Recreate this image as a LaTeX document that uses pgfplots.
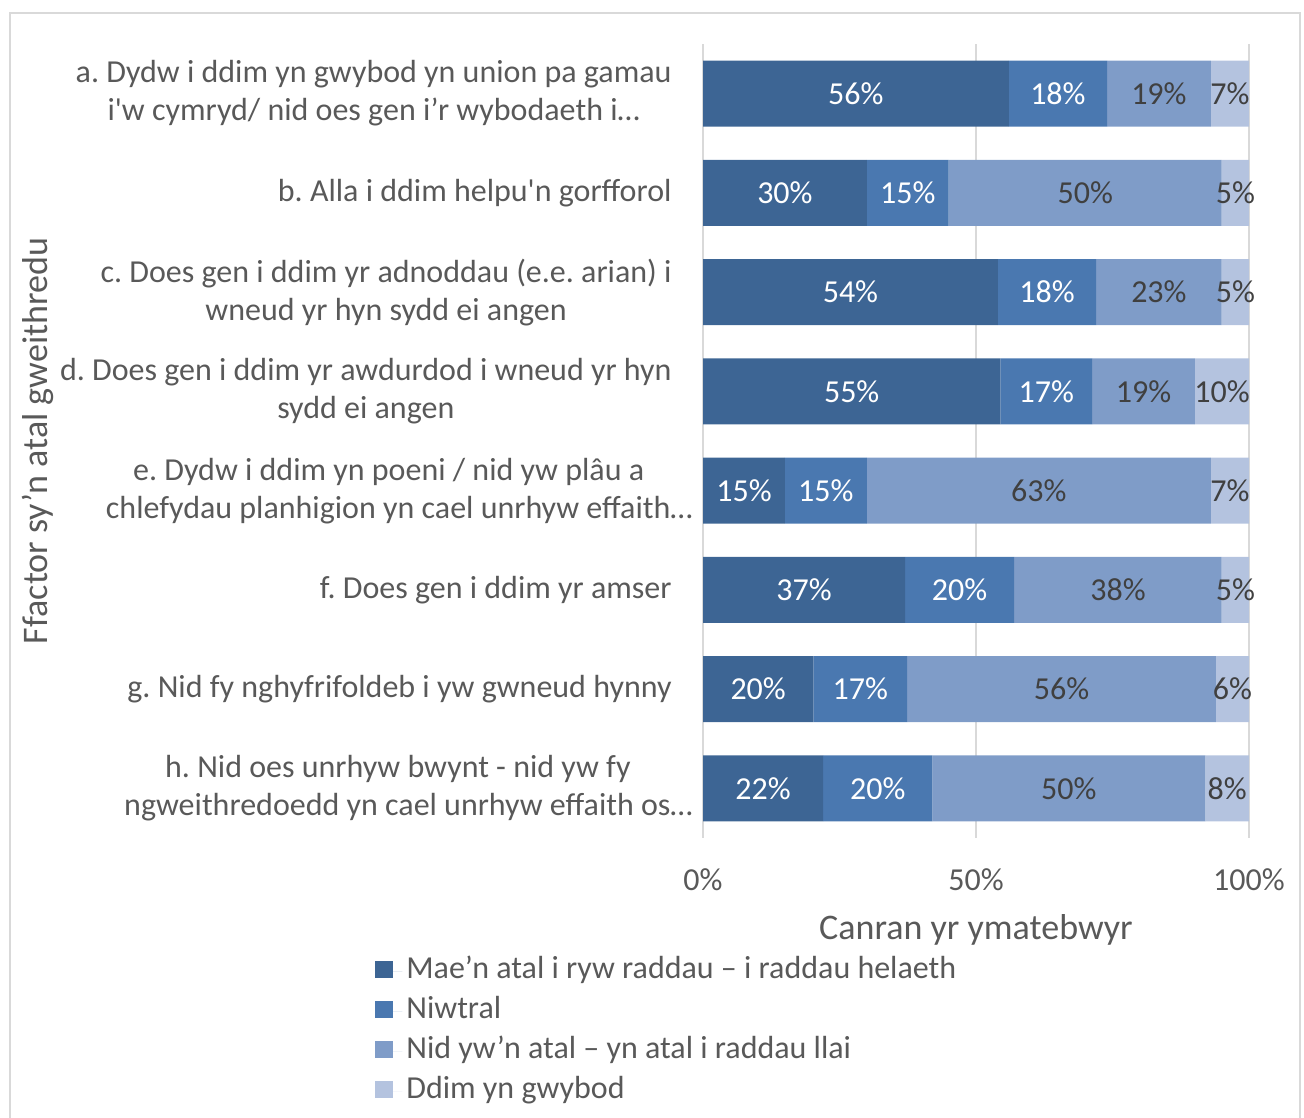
\documentclass[border=0pt]{standalone}
\usepackage{pgfplots}
\pgfplotsset{compat=1.18}
\usepackage{fontspec}
\setmainfont{Carlito}
\frenchspacing
\definecolor{cA}{HTML}{3D6594}
\definecolor{cB}{HTML}{4A78B0}
\definecolor{cC}{HTML}{7F9CC8}
\definecolor{cD}{HTML}{B4C3DF}
\definecolor{txt}{HTML}{595959}
\definecolor{txtd}{HTML}{404040}
\definecolor{gridc}{HTML}{D9D9D9}
\newcommand{\lf}{\fontsize{16}{19}\selectfont}
\newcommand{\tf}{\fontsize{18}{21}\selectfont}
\begin{document}
\begin{tikzpicture}
\useasboundingbox (0,0) rectangle (652pt,-558.5pt);
\draw[gridc, line width=1pt] (5pt,-6.5pt) rectangle (650pt,-575pt);
\begin{axis}[
  at={(351.5pt,-419pt)}, anchor=south west,
  scale only axis, width=273pt, height=397pt,
  xbar stacked, bar width=33pt,
  xmin=0, xmax=100, ymin=-0.5, ymax=7.5, y dir=reverse,
  xtick={0,50,100}, xticklabels={0\%,50\%,100\%},
  ytick={0,1,2,3,4,5,6,7},
  yticklabels={
    {a. Dydw i ddim yn gwybod yn union pa gamau\\i\textquotesingle w cymryd/ nid oes gen i’r wybodaeth i…},
    {b. Alla i ddim helpu\textquotesingle n gorfforol},
    {c. Does gen i ddim yr adnoddau (e.e. arian) i\\wneud yr hyn sydd ei angen},
    {d. Does gen i ddim yr awdurdod i wneud yr hyn\\sydd ei angen},
    {e. Dydw i ddim yn poeni / nid yw plâu a\\chlefydau planhigion yn cael unrhyw effaith…\hspace*{-10.5pt}},
    {f. Does gen i ddim yr amser},
    {g. Nid fy nghyfrifoldeb i yw gwneud hynny},
    {h. Nid oes unrhyw bwynt - nid yw fy\\ngweithredoedd yn cael unrhyw effaith os…\hspace*{-10.5pt}}},
  axis line style={draw=none},
  major tick style={draw=none},
  xmajorgrids, ymajorgrids=false,
  major grid style={gridc, line width=0.75pt},
  tick label style={font=\lf, text=txt},
  yticklabel style={align=center, inner sep=0pt, xshift=-15.5pt},
  xticklabel style={yshift=-12pt},
  xlabel={Canran yr ymatebwyr},
  xlabel style={at={(axis description cs:0.5,-0.1272)}, anchor=base, font=\tf, text=txt},
  ylabel={Ffactor sy’n atal gweithredu},
  ylabel style={at={(axis description cs:-1.2179,0.5)}, anchor=center, font=\tf, text=txt},
  legend style={at={(axis description cs:-0.6008,-0.1429)}, anchor=north west, draw=none, fill=none,
    font=\lf, text=txt, row sep=0pt, inner sep=0pt,
    nodes={text height=10pt, text depth=3.5pt, inner ysep=3.25pt}},
  legend cell align=left,
]
\addplot[fill=cA, draw=none, legend image code/.code={\fill[cA] (0pt,-3pt) rectangle (9pt,5.5pt); \path (0pt,0pt) -- (13.5pt,0pt);}] coordinates {
  (56,0) (30,1) (54,2) (54.455,3) (15,4) (37,5) (20.202,6) (22,7)};
\addplot[fill=cB, draw=none, legend image code/.code={\fill[cB] (0pt,-3pt) rectangle (9pt,5.5pt); \path (0pt,0pt) -- (13.5pt,0pt);}] coordinates {
  (18,0) (15,1) (18,2) (16.832,3) (15,4) (20,5) (17.172,6) (20,7)};
\addplot[fill=cC, draw=none, legend image code/.code={\fill[cC] (0pt,-3pt) rectangle (9pt,5.5pt); \path (0pt,0pt) -- (13.5pt,0pt);}] coordinates {
  (19,0) (50,1) (23,2) (18.812,3) (63,4) (38,5) (56.566,6) (50,7)};
\addplot[fill=cD, draw=none, legend image code/.code={\fill[cD] (0pt,-3pt) rectangle (9pt,5.5pt); \path (0pt,0pt) -- (13.5pt,0pt);}] coordinates {
  (7,0) (5,1) (5,2) (9.901,3) (7,4) (5,5) (6.061,6) (8,7)};
\legend{Mae’n atal i ryw raddau – i raddau helaeth, Niwtral, Nid yw’n atal – yn atal i raddau llai, Ddim yn gwybod}
\end{axis}
\begin{axis}[
  at={(351.5pt,-419pt)}, anchor=south west,
  scale only axis, width=273pt, height=397pt,
  xmin=0, xmax=100, ymin=-0.5, ymax=7.5, y dir=reverse,
  hide axis, point meta=explicit symbolic,
]
\addplot[only marks, mark=none, nodes near coords,
  every node near coord/.append style={anchor=center, font=\lf, text=white}] coordinates {
  (28,0) [56\%] (15,1) [30\%] (27,2) [54\%] (27.23,3) [55\%] (7.5,4) [15\%] (18.5,5) [37\%] (10.10,6) [20\%] (11,7) [22\%]};
\addplot[only marks, mark=none, nodes near coords,
  every node near coord/.append style={anchor=center, font=\lf, text=white}] coordinates {
  (65,0) [18\%] (37.5,1) [15\%] (63,2) [18\%] (62.87,3) [17\%] (22.5,4) [15\%] (47,5) [20\%] (28.79,6) [17\%] (32,7) [20\%]};
\addplot[only marks, mark=none, nodes near coords,
  every node near coord/.append style={anchor=center, font=\lf, text=txtd}] coordinates {
  (83.5,0) [19\%] (70,1) [50\%] (83.5,2) [23\%] (80.69,3) [19\%] (61.5,4) [63\%] (76,5) [38\%] (65.66,6) [56\%] (67,7) [50\%]};
\addplot[only marks, mark=none, nodes near coords,
  every node near coord/.append style={anchor=center, font=\lf, text=txtd}] coordinates {
  (96.5,0) [7\%] (97.5,1) [5\%] (97.5,2) [5\%] (95.05,3) [10\%] (96.5,4) [7\%] (97.5,5) [5\%] (96.97,6) [6\%] (96,7) [8\%]};
\end{axis}
\end{tikzpicture}
\end{document}
